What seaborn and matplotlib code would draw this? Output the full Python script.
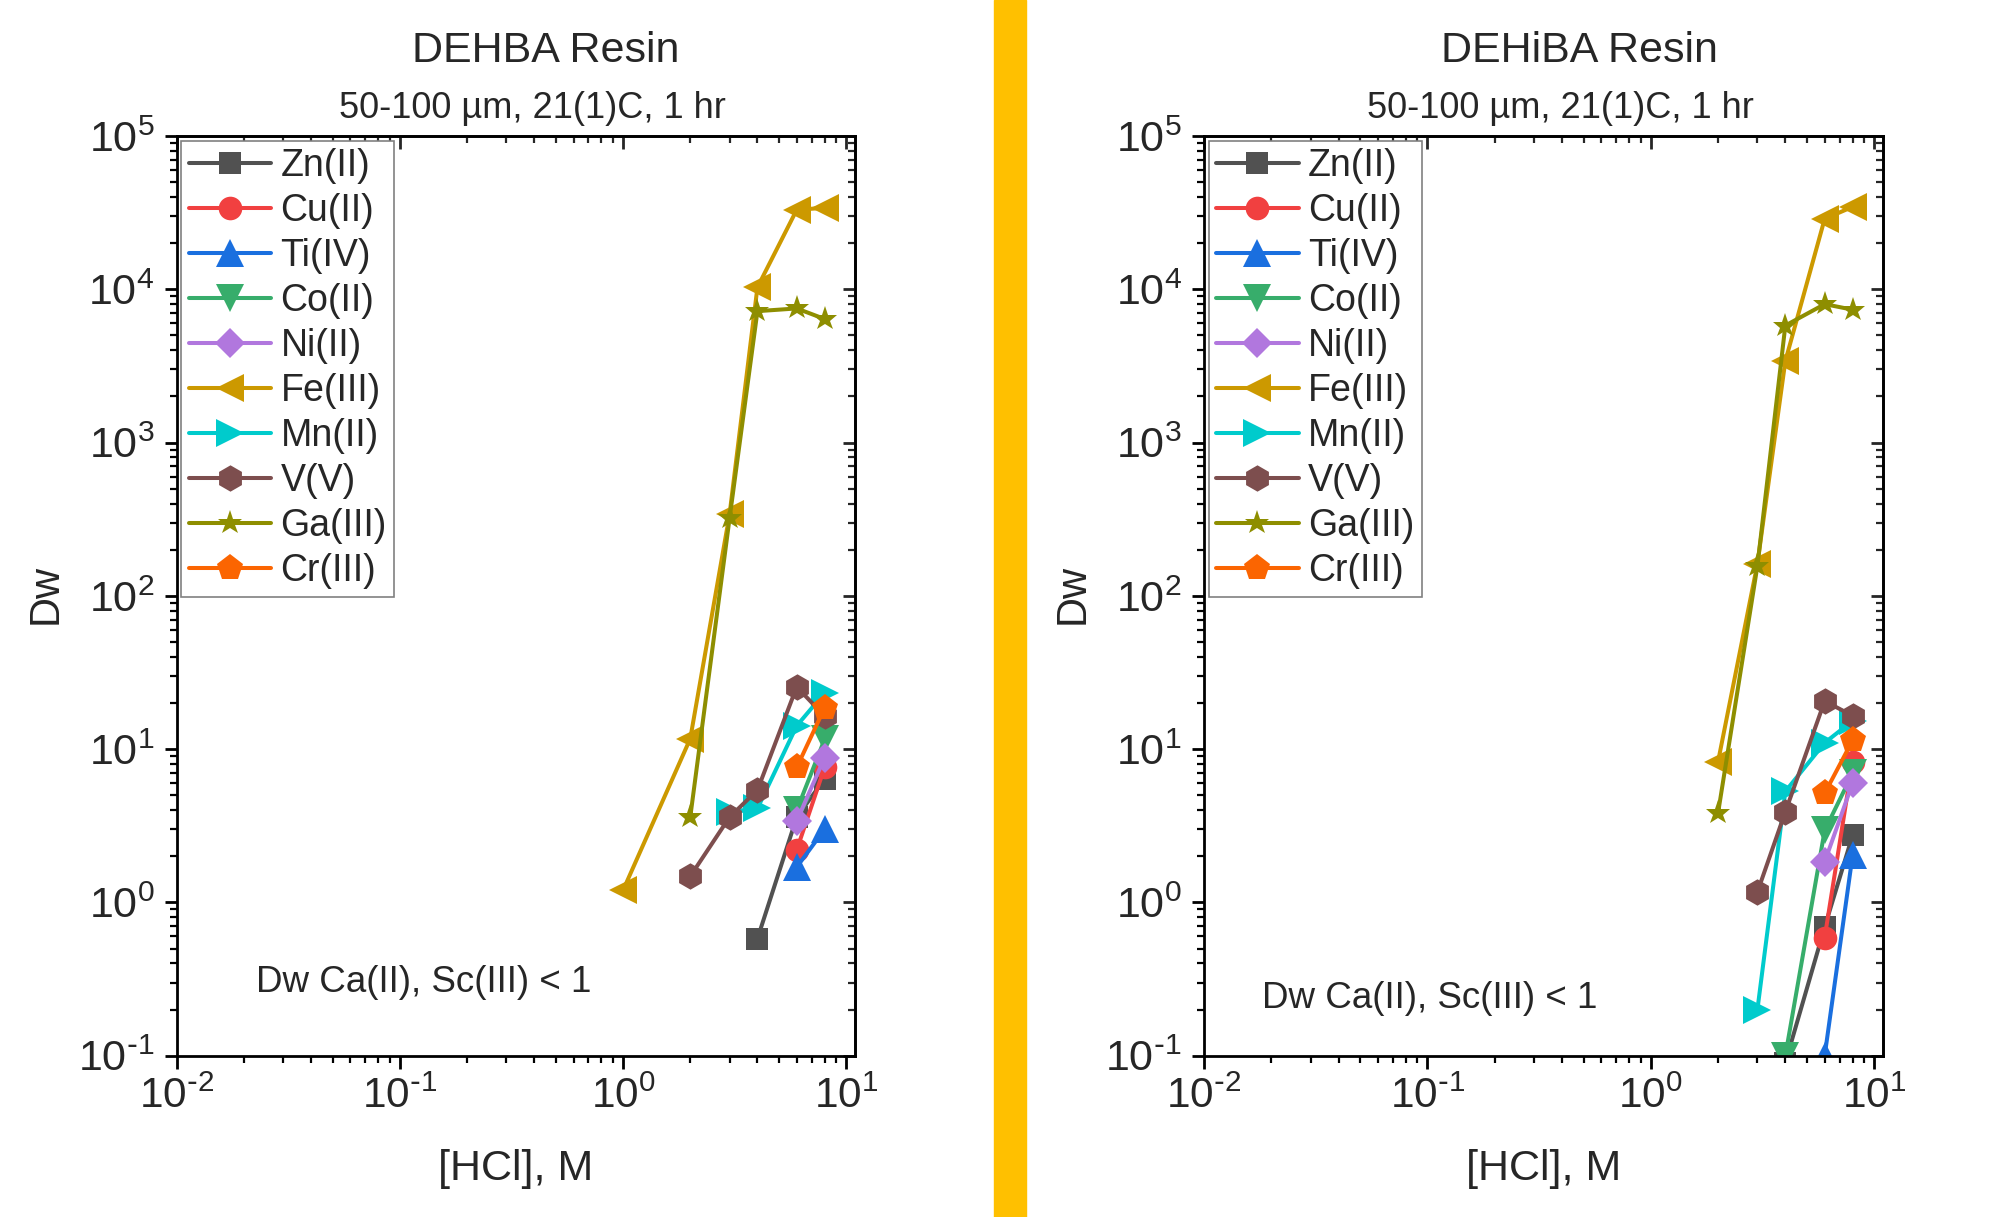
import numpy as np
import pandas as pd
import matplotlib
matplotlib.use("Agg")
import matplotlib.pyplot as plt
import seaborn as sns
from matplotlib.patches import Rectangle
from matplotlib.ticker import LogLocator, FuncFormatter, NullFormatter

# ---------------- data ----------------
metals = ["Zn(II)", "Cu(II)", "Ti(IV)", "Co(II)", "Ni(II)",
          "Fe(III)", "Mn(II)", "V(V)", "Ga(III)", "Cr(III)"]
colors = ["#515151", "#F14040", "#1A6FDF", "#37AD6B", "#B177DE",
          "#CC9900", "#00CBCC", "#7D4E4E", "#8E8E00", "#FB6501"]
markers = ["s", "o", "^", "v", "D", "<", ">", "h", "*", "p"]
msizes = [15.5, 17, 19.5, 19.5, 15, 19.5, 19.5, 19, 18.5, 20]

# DEHBA resin: [HCl] (M) and Dw per metal (same order as `metals`)
dehba_hcl = [[4, 6, 8], [6, 8], [6, 8], [6, 8], [6, 8],
             [1, 2, 3, 4, 6, 8], [3, 4, 6, 8], [2, 3, 4, 6, 8],
             [2, 3, 4, 6, 8], [6, 8]]
dehba_dw = [[0.58, 3.6, 6.4], [2.2, 7.6], [1.7, 3.0], [4.0, 11.6], [3.4, 8.8],
            [1.2, 11.7, 340, 10300, 33000, 34000], [3.9, 4.1, 14.2, 23.3],
            [1.48, 3.6, 5.4, 25.5, 16.4], [3.6, 320, 7200, 7500, 6400],
            [7.6, 18.6]]

# DEHiBA resin
dehiba_hcl = [[4, 6, 8], [6, 8], [6, 8], [4, 6, 8], [6, 8],
              [2, 3, 4, 6, 8], [3, 4, 6, 8], [3, 4, 6, 8],
              [2, 3, 4, 6, 8], [6, 8]]
dehiba_dw = [[0.09, 0.69, 2.74], [0.59, 8.3], [0.1, 2.03], [0.1, 2.95, 6.95],
             [1.84, 6.0], [8.3, 162, 3400, 28800, 34500], [0.2, 5.3, 11.0, 15.3],
             [1.17, 3.9, 20.6, 16.5], [3.84, 157, 5800, 8000, 7360],
             [5.15, 11.4]]

titles = ["DEHBA Resin", "DEHiBA Resin"]
subtitle = "50-100 \u00b5m, 21(1)C, 1 hr"
note = "Dw Ca(II), Sc(III) < 1"

# ---------------- style ----------------
sns.set_style("ticks")
plt.rcParams["font.family"] = ["Liberation Sans", "DejaVu Sans"]
plt.rcParams["mathtext.default"] = "regular"
plt.rcParams["axes.unicode_minus"] = False

W, H = 2004, 1217
fig = plt.figure(figsize=(W / 100, H / 100), dpi=100)
fig.patches.append(Rectangle((994 / W, 0), 32 / W, 1, transform=fig.transFigure,
                             color="#FFC000", zorder=0))

axL = fig.add_axes([176.7 / W, 1 - 1055.7 / H, 677.9 / W, 919.7 / H])
axR = fig.add_axes([1204 / W, 1 - 1055.7 / H, 678.6 / W, 919.7 / H])


def pow_fmt(v, pos):
    e = int(round(np.log10(v)))
    if e < 0:
        return r"$\mathdefault{10^{\text{-}%d}}$" % (-e)
    return r"$\mathdefault{10^{%d}}$" % e


def build_df(hcl, dw):
    rows = []
    for m, xs, ys in zip(metals, hcl, dw):
        for xv, yv in zip(xs, ys):
            rows.append({"metal": m, "hcl": xv, "dw": yv})
    return pd.DataFrame(rows)


def draw(ax, df):
    ax.set_xscale("log")
    ax.set_yscale("log")
    for m, c, mk, ms in zip(metals, colors, markers, msizes):
        sub = df[df["metal"] == m]
        sns.lineplot(data=sub, x="hcl", y="dw", ax=ax, color=c, marker=mk,
                     markersize=ms, markeredgewidth=0, markeredgecolor=c,
                     linewidth=2.9, sort=False, estimator=None, label=m)
    ax.set_xlim(0.01, 10.9)
    ax.set_ylim(0.1, 1e5)
    for sp in ax.spines.values():
        sp.set_linewidth(2)
        sp.set_color("black")
    ax.spines["top"].set_visible(True)
    ax.spines["right"].set_visible(True)
    for axis in (ax.xaxis, ax.yaxis):
        axis.set_major_locator(LogLocator(base=10, numticks=20))
        axis.set_minor_locator(LogLocator(base=10, subs=np.arange(2, 10), numticks=20))
        axis.set_major_formatter(FuncFormatter(pow_fmt))
        axis.set_minor_formatter(NullFormatter())
    ax.tick_params(axis="both", which="major", direction="out", length=9, width=2,
                   color="black", top=False, right=False)
    ax.tick_params(axis="both", which="minor", direction="out", length=5, width=1.6,
                   color="black", top=False, right=False)
    ax.tick_params(axis="x", labelsize=30.5, pad=6)
    ax.tick_params(axis="y", labelsize=31, pad=7)

    secx = ax.secondary_xaxis("top")
    secx.xaxis.set_major_locator(LogLocator(base=10, numticks=20))
    secx.xaxis.set_minor_locator(LogLocator(base=10, subs=np.arange(2, 10), numticks=20))
    secx.tick_params(which="major", direction="in", length=9, width=2, labeltop=False)
    secx.tick_params(which="minor", direction="in", length=5, width=1.6, labeltop=False)
    secx.spines["top"].set_linewidth(2)
    secy = ax.secondary_yaxis("right")
    secy.yaxis.set_major_locator(LogLocator(base=10, numticks=20))
    secy.yaxis.set_minor_locator(LogLocator(base=10, subs=np.arange(2, 10), numticks=20))
    secy.tick_params(which="major", direction="in", length=9, width=2, labelright=False)
    secy.tick_params(which="minor", direction="in", length=5, width=1.6, labelright=False)
    secy.spines["right"].set_linewidth(2)

    ax.set_xlabel("[HCl], M", fontsize=31)
    ax.set_ylabel("Dw", fontsize=30)
    ax.xaxis.set_label_coords(0.5, -0.123)
    ax.xaxis.label.set_va("center")
    ax.yaxis.set_label_coords(-0.194, 0.502)
    ax.yaxis.label.set_va("center")

    leg = ax.legend(loc="upper left", fontsize=27, frameon=True, fancybox=False,
                    edgecolor="#808080", borderaxespad=0.12, handlelength=2.2,
                    handletextpad=0.25, labelspacing=0.24, borderpad=0.2,
                    framealpha=1)
    leg.get_frame().set_linewidth(1.2)


draw(axL, build_df(dehba_hcl, dehba_dw))
draw(axR, build_df(dehiba_hcl, dehiba_dw))

fig.text(546 / W, 1 - 51 / H, titles[0], fontsize=31, ha="center", va="center")
fig.text(532 / W, 1 - 108 / H, subtitle, fontsize=26, ha="center", va="center")
fig.text(1579 / W, 1 - 51 / H, titles[1], fontsize=31, ha="center", va="center")
fig.text(1560 / W, 1 - 108 / H, subtitle, fontsize=26, ha="center", va="center")

fig.text(256 / W, 1 - 983 / H, note, fontsize=26.5, ha="left", va="center")
fig.text(1262 / W, 1 - 998 / H, note, fontsize=26.5, ha="left", va="center")

fig.savefig("out.png", dpi=100)
